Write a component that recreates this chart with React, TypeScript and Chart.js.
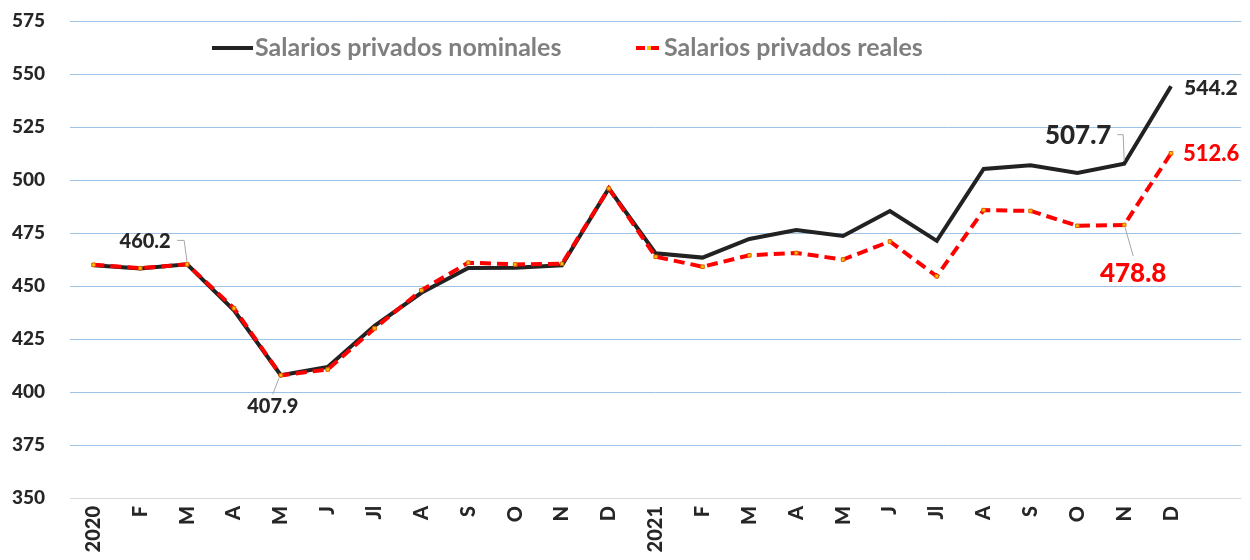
import { useEffect, useRef } from "react";
import { Chart, registerables } from "chart.js";

Chart.register(...registerables);

const categories = ["2020", "F", "M", "A", "M", "J", "Jl", "A", "S", "O", "N", "D", "2021", "F", "M", "A", "M", "J", "Jl", "A", "S", "O", "N", "D", ""];
const nominales = [459.8, 458.2, 460.2, 438.5, 407.9, 411.8, 431.2, 446.8, 458.5, 458.6, 459.8, 496.0, 465.4, 463.4, 472.2, 476.4, 473.6, 485.4, 471.3, 505.2, 507.0, 503.3, 507.7, 544.2];
const reales = [460.0, 458.4, 460.2, 439.5, 407.9, 410.6, 430.0, 448.0, 461.0, 460.2, 460.5, 496.0, 463.8, 459.1, 464.5, 465.6, 462.5, 471.0, 454.6, 485.8, 485.4, 478.4, 478.8, 512.6];
const seriesNames = ["Salarios privados nominales", "Salarios privados reales"];
const yMin = 350;
const yMax = 575;
const yStep = 25;

const FONT = "Lato, 'Open Sans', sans-serif";

// Annotated values: dataset index and category index; offsets are layout only
const valueLabels = [
  { ds: 0, i: 2, dx: -42, dy: -23, size: 20, color: "#262626", align: "center", leader: [[-10, -24], [-3, -24], [0, -2]] },
  { ds: 0, i: 4, dx: -8, dy: 31, size: 20, color: "#262626", align: "center", leader: [[-2, 3], [-8, 19]] },
  { ds: 0, i: 23, dx: 13, dy: 2, size: 21, color: "#262626", align: "left", leader: null },
  { ds: 0, i: 22, dx: -46, dy: -28, size: 26, color: "#262626", align: "center", leader: [[-7, -29], [-1, -29], [0, -3]] },
  { ds: 1, i: 23, dx: 12, dy: 1, size: 22, color: "#ff0000", align: "left", leader: null },
  { ds: 1, i: 22, dx: 9, dy: 49, size: 26, color: "#ff0000", align: "center", leader: [[1, 3], [9, 31]] },
];

const labelPlugin = {
  id: "valueLabels",
  afterDatasetsDraw(chart: any) {
    const ctx = chart.ctx;
    ctx.save();
    for (const l of valueLabels) {
      const meta = chart.getDatasetMeta(l.ds);
      const pt = meta.data[l.i];
      if (!pt) continue;
      const v = chart.data.datasets[l.ds].data[l.i] as number;
      if (l.leader) {
        ctx.beginPath();
        ctx.strokeStyle = "#a6a6a6";
        ctx.lineWidth = 1;
        l.leader.forEach((p, k) => {
          if (k === 0) ctx.moveTo(pt.x + p[0], pt.y + p[1]);
          else ctx.lineTo(pt.x + p[0], pt.y + p[1]);
        });
        ctx.stroke();
      }
      ctx.font = `900 ${l.size}px ${FONT}`;
      ctx.fillStyle = l.color;
      ctx.textAlign = l.align;
      ctx.textBaseline = "middle";
      ctx.fillText(v.toFixed(1), pt.x + l.dx, pt.y + l.dy);
    }
    ctx.restore();
  },
};

const legendPlugin = {
  id: "innerLegend",
  afterDraw(chart: any) {
    const ctx = chart.ctx;
    const left = chart.chartArea.left;
    const y = 48;
    ctx.save();
    ctx.strokeStyle = "#222222";
    ctx.lineWidth = 4;
    ctx.beginPath();
    ctx.moveTo(left + 142, y);
    ctx.lineTo(left + 183, y);
    ctx.stroke();
    ctx.font = `bold 25px ${FONT}`;
    ctx.fillStyle = "#7f7f7f";
    ctx.textAlign = "left";
    ctx.textBaseline = "middle";
    ctx.fillText(seriesNames[0], left + 185, y);
    ctx.strokeStyle = "#ff0000";
    ctx.lineWidth = 4;
    ctx.setLineDash([9, 5]);
    ctx.beginPath();
    ctx.moveTo(left + 566, y);
    ctx.lineTo(left + 592, y);
    ctx.stroke();
    ctx.setLineDash([]);
    ctx.fillStyle = "#ffc000";
    ctx.fillRect(left + 577, y - 2, 4, 4);
    ctx.fillStyle = "#7f7f7f";
    ctx.fillText(seriesNames[1], left + 594, y);
    ctx.restore();
  },
};

export default function App() {
  const ref = useRef<HTMLCanvasElement>(null);
  useEffect(() => {
    document.body.style.margin = "0";
    const c = ref.current;
    if (!c) return;
    const chart = new Chart(c, {
      type: "line",
      data: {
        labels: categories,
        datasets: [
          {
            label: seriesNames[0],
            data: nominales,
            borderColor: "#222222",
            borderWidth: 4,
            pointRadius: 0,
            tension: 0,
            order: 2,
          },
          {
            label: seriesNames[1],
            data: reales,
            borderColor: "#ff0000",
            borderWidth: 4,
            borderDash: [11, 6],
            pointStyle: "rect",
            pointRadius: 2.5,
            pointBackgroundColor: "#ffc000",
            pointBorderColor: "#e06000",
            pointBorderWidth: 1,
            tension: 0,
            order: 1,
          },
        ],
      },
      options: {
        responsive: false,
        animation: false,
        layout: { padding: { top: 21, right: 0, left: 12, bottom: 0 } },
        plugins: {
          legend: { display: false },
          tooltip: { enabled: false },
        },
        scales: {
          x: {
            offset: true,
            grid: { display: false, drawTicks: false },
            border: { display: false },
            ticks: {
              autoSkip: false,
              minRotation: 90,
              maxRotation: 90,
              padding: 8,
              color: "#262626",
              font: { family: FONT, size: 20, weight: "900" },
            },
            afterFit(scale: any) {
              scale.height = 62;
            },
          },
          y: {
            min: yMin,
            max: yMax,
            grid: {
              drawTicks: false,
              color: (ctx: any) => (ctx.tick && ctx.tick.value === yMin ? "#d9d9d9" : "#9dc3e6"),
              lineWidth: 1,
            },
            border: { display: false },
            ticks: {
              stepSize: yStep,
              padding: 0,
              crossAlign: "far",
              color: "#262626",
              font: { family: FONT, size: 19, weight: "900" },
            },
            afterFit(scale: any) {
              scale.width = 58;
            },
          },
        },
      },
      plugins: [labelPlugin, legendPlugin],
    } as any);
    return () => chart.destroy();
  }, []);
  return (
    <div style={{ width: 1250, height: 560 }}>
      <canvas ref={ref} width={1250} height={560} />
    </div>
  );
}
